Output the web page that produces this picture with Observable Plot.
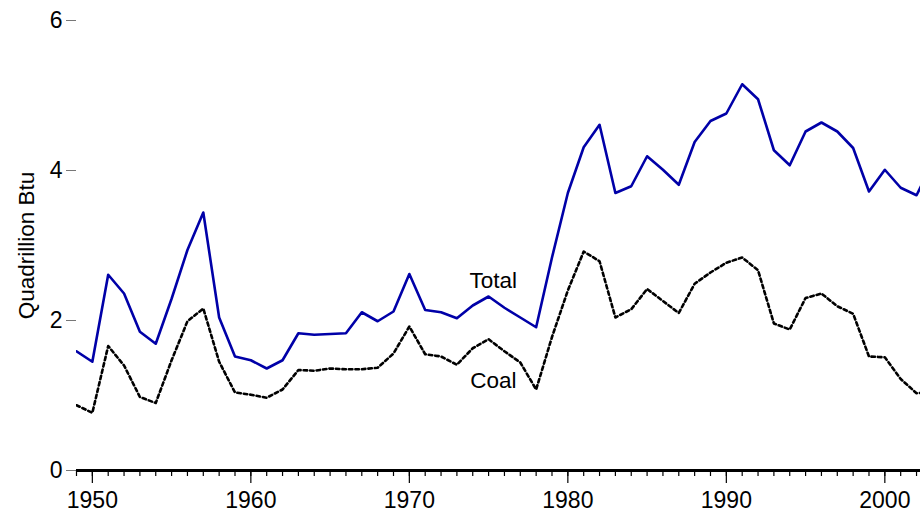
<!DOCTYPE html>
<html>
<head>
<meta charset="utf-8">
<script src="https://cdn.jsdelivr.net/npm/d3@7"></script>
<script src="https://cdn.jsdelivr.net/npm/@observablehq/plot@0.6"></script>
<style>
  html, body { margin: 0; padding: 0; background: #fff; }
  #chart svg { display: block; }
</style>
</head>
<body>
<div id="chart"></div>
<script>
const years = d3.range(1949, 2004);
const totalValues = [
  1.59, 1.45, 2.61, 2.36, 1.85, 1.69, 2.29, 2.94, 3.44, 2.04,
  1.52, 1.47, 1.36, 1.47, 1.83, 1.81, 1.82, 1.83, 2.11, 1.99,
  2.12, 2.62, 2.14, 2.11, 2.03, 2.20, 2.32, 2.17, 2.04, 1.91,
  2.84, 3.70, 4.31, 4.61, 3.70, 3.79, 4.19, 4.01, 3.81, 4.38,
  4.66, 4.76, 5.15, 4.95, 4.27, 4.07, 4.52, 4.64, 4.52, 4.30,
  3.72, 4.01, 3.77, 3.67, 4.10
];
const coalValues = [
  0.87, 0.77, 1.66, 1.40, 0.98, 0.90, 1.47, 1.99, 2.16, 1.45,
  1.04, 1.01, 0.97, 1.08, 1.34, 1.33, 1.36, 1.35, 1.35, 1.37,
  1.56, 1.92, 1.55, 1.52, 1.41, 1.63, 1.75, 1.59, 1.44, 1.08,
  1.78, 2.40, 2.92, 2.79, 2.04, 2.15, 2.42, 2.26, 2.10, 2.49,
  2.64, 2.77, 2.84, 2.67, 1.96, 1.88, 2.30, 2.36, 2.19, 2.09,
  1.52, 1.51, 1.22, 1.03, 1.05
];
const yTicks = [0, 2, 4, 6];
const xMajorTicks = [1950, 1960, 1970, 1980, 1990, 2000];
const xMinorTicks = d3.range(1949, 2003);
const seriesLabels = [
  {name: "Total", year: 1975.3, value: 2.53},
  {name: "Coal", year: 1975.3, value: 1.19}
];

const total = years.map((y, i) => ({year: y, value: totalValues[i]}));
const coal = years.map((y, i) => ({year: y, value: coalValues[i]}));

const font = "Liberation Sans, Arial, Helvetica, sans-serif";

const chart = Plot.plot({
  width: 920,
  height: 511,
  marginLeft: 76,
  marginRight: 0,
  marginTop: 20,
  marginBottom: 41,
  style: {fontFamily: font, fontSize: "22px", color: "#000", background: "#fff", overflow: "hidden"},
  x: {domain: [1949, 2002.25], axis: null},
  y: {domain: [0, 6], axis: null},
  marks: [
    // y axis ticks and labels
    Plot.axisY({ticks: yTicks, tickSize: 10, tickPadding: 4, stroke: "#777", strokeWidth: 1, fontSize: 23, label: null, tickFormat: d => d, fill: "#000"}),
    Plot.text(["Quadrillion Btu"], {frameAnchor: "left", textAnchor: "middle", dx: -50, rotate: -90, fontSize: 22.5, fill: "#000"}),
    // lines
    Plot.line(coal, {x: "year", y: "value", stroke: "#000", strokeWidth: 2.6, strokeDasharray: "3.5,3", clip: true}),
    Plot.line(total, {x: "year", y: "value", stroke: "#0000a8", strokeWidth: 2.6, clip: true}),
    // x axis
    Plot.ruleY([0], {stroke: "#000", strokeWidth: 3}),
    Plot.axisX({ticks: xMinorTicks, tickSize: 6, tickFormat: () => "", stroke: "#000", strokeWidth: 1.2, label: null}),
    Plot.axisX({ticks: xMajorTicks, tickSize: 13, tickPadding: 8, tickFormat: d => String(d), fontSize: 23, stroke: "#000", strokeWidth: 1.2, fill: "#000", label: null}),
    // series labels
    Plot.text(seriesLabels, {x: "year", y: "value", text: "name", fontSize: 22.5, fill: "#000"})
  ]
});
document.getElementById("chart").appendChild(chart);
</script>
</body>
</html>
